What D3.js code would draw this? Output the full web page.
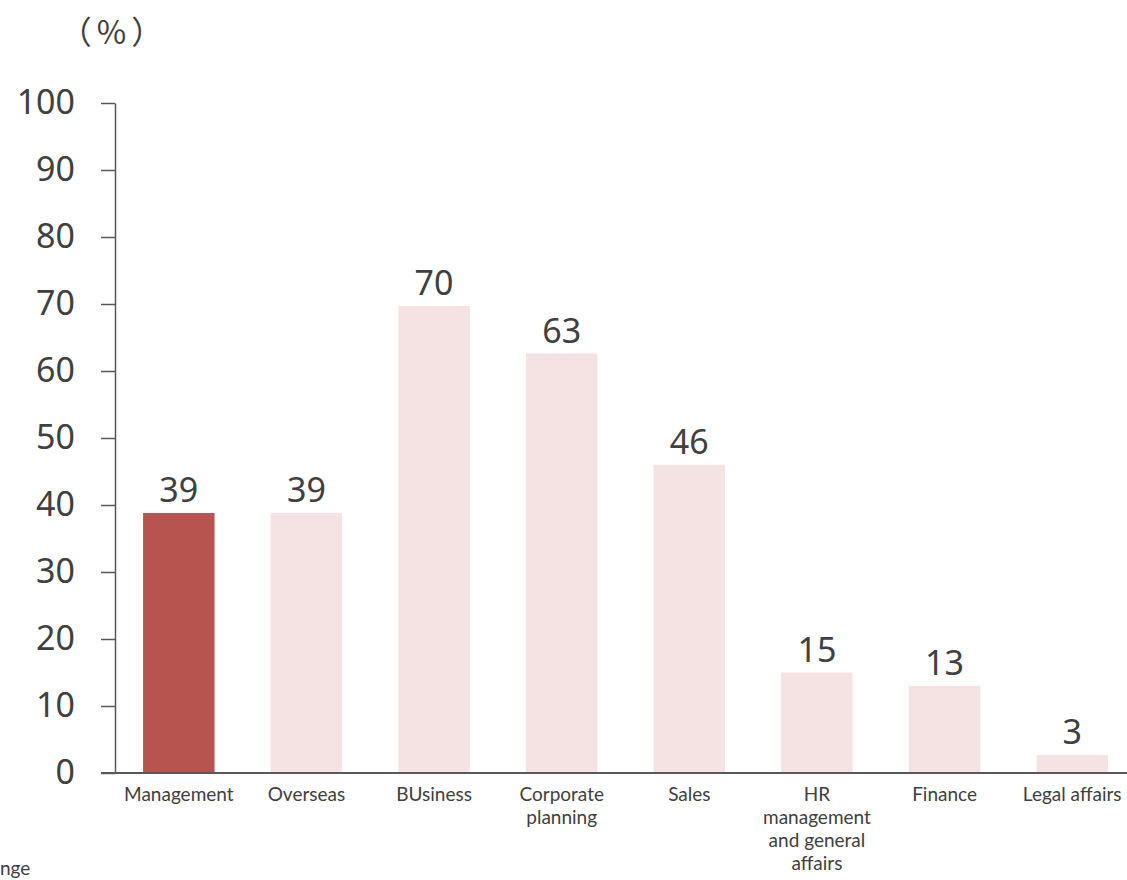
<!DOCTYPE html>
<html><head><meta charset="utf-8">
<script src="https://cdn.jsdelivr.net/npm/d3@7"></script>
<style>body{margin:0;background:#fff;} svg{display:block;font-family:"Noto Sans",sans-serif;}</style>
</head><body>
<svg id="c" width="1127" height="880"></svg>
<script>
const categories = ["Management","Overseas","BUsiness","Corporate\nplanning","Sales","HR\nmanagement\nand general\naffairs","Finance","Legal affairs"];
const values = [38.8, 38.8, 69.7, 62.6, 46, 15, 13, 2.7];
const valueLabels = ["39","39","70","63","46","15","13","3"];
const yTicks = [0,10,20,30,40,50,60,70,80,90,100];
const highlight = ["Management"];

const svg = d3.select("#c");
const x = d3.scaleBand().domain(categories).range([115, 1136]).paddingInner(0.44).paddingOuter(0.22);
const y = d3.scaleLinear().domain([0,100]).range([773, 103]);

// bars
svg.selectAll("rect.bar").data(categories).join("rect")
  .attr("x", d => x(d)).attr("width", x.bandwidth())
  .attr("y", (d,i) => y(values[i])).attr("height", (d,i) => y(0) - y(values[i]))
  .attr("fill", d => highlight.includes(d) ? "#B85450" : "#F5E3E3");

// value labels
svg.selectAll("text.val").data(categories).join("text")
  .attr("x", d => x(d) + x.bandwidth()/2)
  .attr("y", (d,i) => y(values[i]) - 11)
  .attr("text-anchor","middle").attr("font-size",34).attr("fill","#404040")
  .text((d,i) => valueLabels[i]);

// y axis
const yAxis = svg.append("g").attr("transform","translate(115,0)")
  .call(d3.axisLeft(y).tickValues(yTicks).tickSize(14).tickPadding(26).tickSizeOuter(0));
yAxis.selectAll("text").attr("font-size",34).attr("fill","#404040").attr("font-family","Noto Sans, sans-serif");
yAxis.selectAll("line,path").attr("stroke","#595959").attr("stroke-width",1.5);

// x axis baseline
svg.append("line").attr("x1",101).attr("x2",1127).attr("y1",y(0)).attr("y2",y(0))
  .attr("stroke","#595959").attr("stroke-width",2);

// x labels
categories.forEach(c => {
  const lines = c.split("\n");
  const t = svg.append("text").attr("text-anchor","middle").attr("font-size",19)
    .attr("font-family","Lato, sans-serif").attr("fill","#404040");
  lines.forEach((l,i) => {
    t.append("tspan").attr("x", x(c) + x.bandwidth()/2).attr("y", 801 + i*23).text(l);
  });
});

// unit label
svg.append("text").attr("x",114).attr("y",44).attr("text-anchor","middle")
  .attr("font-size",32).attr("letter-spacing",5).attr("fill","#404040")
  .attr("font-family","Noto Sans CJK JP, sans-serif").text("（%）");

// partially visible note at bottom-left
svg.append("text").attr("x",0).attr("y",875).attr("text-anchor","start")
  .attr("font-size",19).attr("font-family","Lato, sans-serif").attr("fill","#404040").text("nge");
</script>
</body></html>
